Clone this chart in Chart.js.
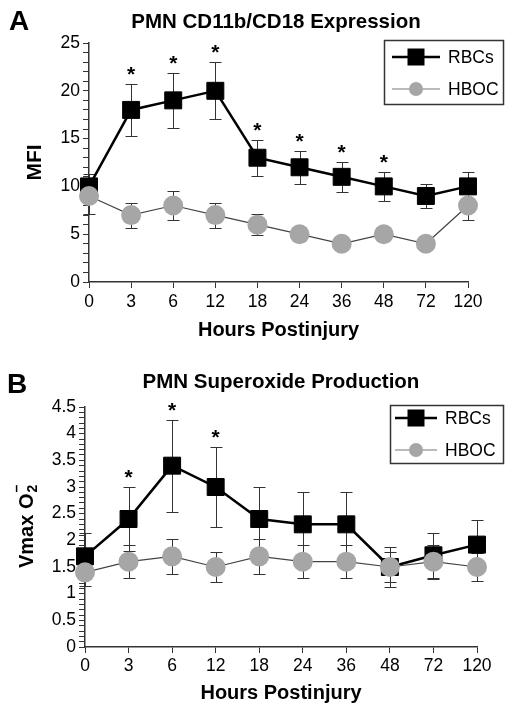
<!DOCTYPE html>
<html>
<head>
<meta charset="utf-8">
<script src="https://cdn.jsdelivr.net/npm/chart.js@4"></script>
<style>
    body { margin: 0; background: #fff; }
    #wrap { position: relative; width: 512px; height: 713px; }
    canvas { position: absolute; left: 0; }
    #chartA { top: 0; }
    #chartB { top: 356px; }
</style>
</head>
<body>
<div id="wrap">
    <canvas id="chartA" width="512" height="356"></canvas>
    <canvas id="chartB" width="512" height="357"></canvas>
</div>
<script>
// 시간 (카테고리)
const hours = ['0', '3', '6', '12', '18', '24', '36', '48', '72', '120'];

// A: PMN CD11b/CD18 Expression (MFI)
const cdRbc = [10, 18, 19, 20, 13, 12, 11, 10, 9, 10];
const cdRbcErr = [1.3, 2.7, 2.9, 3.0, 1.9, 1.75, 1.6, 1.5, 1.3, 1.5];
const cdHboc = [9, 7, 8, 7, 6, 5, 4, 5, 4, 8];
const cdHbocErr = [1.9, 1.3, 1.5, 1.3, 1.1, 0.5, 0.5, 0.5, 0.5, 1.5];
const cdStars = [false, true, true, true, true, true, true, true, false, false];

// B: PMN Superoxide Production (Vmax O2-)
const soRbc = [1.7, 2.4, 3.4, 3.0, 2.4, 2.3, 2.3, 1.5, 1.72, 1.92];
const soRbcErr = [0.43, 0.6, 0.86, 0.75, 0.6, 0.6, 0.6, 0.38, 0.42, 0.46];
const soHboc = [1.4, 1.6, 1.7, 1.5, 1.7, 1.6, 1.6, 1.5, 1.6, 1.5];
const soHbocErr = [0.25, 0.31, 0.33, 0.28, 0.33, 0.31, 0.31, 0.28, 0.32, 0.27];
const soStars = [false, true, true, true, false, false, false, false, false, false];

const FONT = "'Liberation Sans', Arial, sans-serif";
Chart.defaults.font.family = FONT;
Chart.defaults.color = '#000';

// 에러바 + 별표
const errorBars = {
    id: 'errorBars',
    beforeDatasetsDraw(chart) {
        const ctx = chart.ctx;
        const y = chart.scales.y;
        ctx.save();
        ctx.strokeStyle = '#333';
        ctx.lineWidth = 1;
        chart.data.datasets.forEach((ds, i) => {
            const meta = chart.getDatasetMeta(i);
            meta.data.forEach((pt, j) => {
                const v = ds.data[j], e = ds.errors[j];
                const top = Math.round(y.getPixelForValue(v + e)) + 0.5;
                const bot = Math.round(y.getPixelForValue(v - e)) + 0.5;
                const x = Math.round(pt.x) + 0.5;
                ctx.beginPath();
                ctx.moveTo(x, top); ctx.lineTo(x, bot);
                ctx.moveTo(x - 6, top); ctx.lineTo(x + 6, top);
                ctx.moveTo(x - 6, bot); ctx.lineTo(x + 6, bot);
                ctx.stroke();
            });
        });
        ctx.restore();
    },
    afterDatasetsDraw(chart) {
        const ctx = chart.ctx;
        const y = chart.scales.y;
        const ds = chart.data.datasets[0];
        const meta = chart.getDatasetMeta(0);
        ctx.save();
        ctx.fillStyle = '#000';
        ctx.font = 'bold 21px ' + FONT;
        ctx.textAlign = 'center';
        ctx.textBaseline = 'alphabetic';
        ds.stars.forEach((s, j) => {
            if (!s) return;
            const cap = y.getPixelForValue(ds.data[j] + ds.errors[j]);
            ctx.fillText('*', meta.data[j].x, cap - 15 + 12);
        });
        ctx.restore();
    }
};

// 패널 제목, 범례
const panel = {
    id: 'panel',
    afterDraw(chart, args, o) {
        const ctx = chart.ctx;
        ctx.save();
        ctx.fillStyle = '#000';
        ctx.textBaseline = 'middle';
        ctx.font = 'bold 28px ' + FONT;
        ctx.textAlign = 'left';
        ctx.fillText(o.letter, o.letterX, o.letterY);
        ctx.font = 'bold 20.5px ' + FONT;
        ctx.textAlign = 'center';
        ctx.fillText(o.title, o.titleX, o.titleY);

        // 범례
        const L = o.legend;
        ctx.strokeStyle = '#333';
        ctx.lineWidth = 1.5;
        ctx.strokeRect(L.x, L.y, L.w, L.h);
        chart.data.datasets.forEach((ds, i) => {
            const ry = L.rows[i];
            ctx.strokeStyle = i === 0 ? '#000' : '#777';
            ctx.lineWidth = i === 0 ? 2.5 : 1.2;
            ctx.beginPath();
            ctx.moveTo(L.lineX[0], ry); ctx.lineTo(L.lineX[1], ry);
            ctx.stroke();
            ctx.fillStyle = ds.pointBackgroundColor;
            if (i === 0) {
                ctx.fillRect(L.markX - 8.5, ry - 8.5, 17, 17);
            } else {
                ctx.beginPath();
                ctx.arc(L.markX, ry, 7, 0, Math.PI * 2);
                ctx.fill();
            }
            ctx.fillStyle = '#000';
            ctx.font = '17.5px ' + FONT;
            ctx.textAlign = 'left';
            ctx.fillText(ds.label, L.textX, ry + 1);
        });

        // 회전된 y축 제목 (아래첨자/위첨자)
        if (o.yTitle) {
            const t = o.yTitle;
            ctx.translate(t.x, t.y);
            ctx.rotate(-Math.PI / 2);
            ctx.textAlign = 'left';
            ctx.textBaseline = 'alphabetic';
            ctx.font = 'bold 20px ' + FONT;
            ctx.fillText(t.main, 0, 0);
            const w = ctx.measureText(t.main).width;
            ctx.font = 'bold 14px ' + FONT;
            ctx.fillText(t.sub, w + 1, 4);
            ctx.fillText(t.sup, w + 1, -12);
        }
        ctx.restore();
    }
};

function makeChart(id, cfg) {
    return new Chart(document.getElementById(id), {
        type: 'line',
        data: {
            labels: hours,
            datasets: [{
                label: 'RBCs',
                data: cfg.rbc,
                errors: cfg.rbcErr,
                stars: cfg.stars,
                borderColor: '#000',
                borderWidth: 2.5,
                pointStyle: 'rect',
                pointRadius: 12,
                pointBackgroundColor: '#000',
                pointBorderColor: '#000',
                pointBorderWidth: 1,
                order: 1
            }, {
                label: 'HBOC',
                data: cfg.hboc,
                errors: cfg.hbocErr,
                borderColor: '#444',
                borderWidth: 1.2,
                pointStyle: 'circle',
                pointRadius: 10,
                pointBackgroundColor: '#a6a6a6',
                pointBorderColor: '#a6a6a6',
                pointBorderWidth: 0,
                order: 0
            }]
        },
        options: {
            responsive: false,
            animation: false,
            events: [],
            layout: { padding: cfg.padding },
            plugins: {
                legend: { display: false },
                tooltip: { enabled: false },
                panel: cfg.panel
            },
            scales: {
                x: {
                    type: 'category',
                    offset: false,
                    afterFit: s => { s.height = cfg.xHeight; },
                    grid: { drawOnChartArea: false, offset: false, tickLength: 6, color: '#333' },
                    border: { color: '#333', width: 1.5 },
                    ticks: { autoSkip: false, maxRotation: 0, padding: cfg.xTickPad, color: '#000', font: { size: 17.5 } },
                    title: {
                        display: true, text: 'Hours Postinjury', color: '#000',
                        font: { size: 20, weight: 'bold' }, padding: { top: 0, bottom: cfg.xTitlePad }
                    }
                },
                y: {
                    min: 0, max: cfg.max,
                    afterFit: s => { s.width = cfg.yWidth; },
                    grid: { drawOnChartArea: false, tickLength: 6, color: '#333' },
                    border: { color: '#333', width: 1.5 },
                    ticks: {
                        stepSize: cfg.step, autoSkip: false, padding: 3, color: '#000', font: { size: 17.5 },
                        callback: cfg.label
                    },
                    title: cfg.yTitle
                }
            }
        },
        plugins: [errorBars, panel]
    });
}

makeChart('chartA', {
    rbc: cdRbc, rbcErr: cdRbcErr, hboc: cdHboc, hbocErr: cdHbocErr, stars: cdStars,
    padding: { top: 43, right: 44, bottom: 0, left: 0 },
    xHeight: 74, yWidth: 89, xTitlePad: 14, xTickPad: 4,
    max: 25, step: 1,
    label: v => (v % 5 === 0 ? String(v) : ''),
    yTitle: { display: true, text: 'MFI', color: '#000', font: { size: 21, weight: 'bold' }, padding: { top: 23, bottom: 0 } },
    panel: {
        letter: 'A', letterX: 9, letterY: 22,
        title: 'PMN CD11b/CD18 Expression', titleX: 276, titleY: 22,
        legend: { x: 384.5, y: 40.5, w: 119, h: 64, rows: [57, 89], lineX: [392, 440], markX: 416, textX: 448 }
    }
});

makeChart('chartB', {
    rbc: soRbc, rbcErr: soRbcErr, hboc: soHboc, hbocErr: soHbocErr, stars: soStars,
    padding: { top: 51, right: 35, bottom: 0, left: 0 },
    xHeight: 66, yWidth: 85, xTitlePad: 8, xTickPad: 3,
    max: 4.5, step: 0.1,
    label: v => { const r = Math.round(v * 10); return r % 5 === 0 ? String(r / 10) : ''; },
    yTitle: { display: false },
    panel: {
        letter: 'B', letterX: 7, letterY: 29,
        title: 'PMN Superoxide Production', titleX: 281, titleY: 26,
        legend: { x: 390.5, y: 49.5, w: 113, h: 58, rows: [62, 94], lineX: [395, 437], markX: 416, textX: 445 },
        yTitle: { x: 33, y: 212, main: 'Vmax O', sub: '2', sup: '\u2013' }
    }
});
</script>
</body>
</html>
